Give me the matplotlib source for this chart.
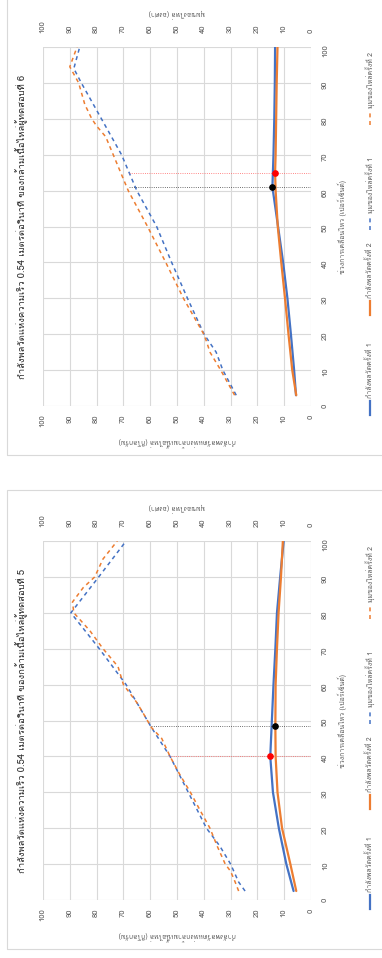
import numpy as np
import matplotlib
matplotlib.use("Agg")
import matplotlib.pyplot as plt
import matplotlib.transforms as mtrans
from matplotlib import font_manager
from matplotlib.ft2font import FT2Font
from matplotlib.lines import Line2D
from matplotlib.patches import Rectangle

# ---- data (ผู้ทดสอบที่ 6, top chart) ----
p6_pow1_x = [3, 10, 20, 30, 40, 50, 61, 70, 80, 90, 100]
p6_pow1 = [5.6, 6.3, 7.5, 8.8, 10.4, 12.3, 14.4, 14.0, 13.7, 13.5, 13.4]
p6_pow2_x = [3, 10, 20, 30, 40, 50, 60, 65, 70, 80, 90, 100]
p6_pow2 = [5.5, 7.0, 8.4, 9.7, 11.1, 12.4, 13.2, 13.4, 13.2, 13.0, 12.8, 12.5]
p6_ang1_x = [3, 10, 15, 20, 30, 40, 50, 60, 70, 80, 90, 94, 100]
p6_ang1 = [27.9, 32.9, 35.4, 39.9, 46.1, 52.0, 57.6, 65.0, 70.7, 78.2, 85.7, 88.5, 86.3]
p6_ang2_x = [3, 10, 15, 18, 20, 30, 40, 50, 60, 70, 75, 78, 80, 84, 90, 94.5, 100]
p6_ang2 = [28.5, 33.7, 37.7, 39.0, 40.0, 47.6, 54.2, 61.0, 68.2, 73.8, 76.6, 80.0, 81.8,
           84.4, 86.7, 90.0, 87.3]
p6_peak_x = [61, 65]
p6_peak_y = [14.4, 13.4]
p6_peak_top = [68.2, 68.2]

# ---- data (ผู้ทดสอบที่ 5, bottom chart) ----
p5_pow1_x = [2.5, 10, 20, 30, 40, 50, 60, 70, 80, 90, 100]
p5_pow1 = [6.5, 9.2, 12.0, 14.2, 15.2, 14.6, 14.0, 13.3, 12.7, 11.5, 10.2]
p5_pow2_x = [2.5, 10, 20, 30, 40, 48.5, 60, 70, 80, 90, 100]
p5_pow2 = [5.5, 7.7, 10.8, 12.5, 13.2, 13.3, 13.2, 12.7, 12.1, 11.2, 10.5]
p5_ang1_x = [2.5, 5, 10, 15, 20, 30, 40, 48, 55, 60, 70, 80, 90, 100]
p5_ang1 = [24.6, 27.0, 30.0, 34.0, 39.0, 45.8, 52.6, 59.5, 65.0, 69.0, 79.0, 89.6, 79.2, 69.0]
p5_ang2_x = [2.5, 5, 8, 10, 15, 20, 25, 30, 35, 40, 45, 48, 52, 55, 60, 65, 70, 75, 80,
             83, 87, 90, 95, 100]
p5_ang2 = [27.0, 28.3, 30.0, 32.0, 35.0, 37.7, 41.4, 45.0, 49.0, 52.6, 55.7, 59.5, 62.6,
           65.0, 70.0, 72.0, 77.6, 82.5, 88.5, 89.0, 85.0, 80.7, 77.6, 72.3]
p5_peak_x = [40, 48.5]
p5_peak_y = [15.2, 13.3]
p5_peak_top = [53.2, 59.9]

ticks = list(range(0, 101, 10))
legend_labels = ["กำลังพลวัตครั้งที่ 1", "กำลังพลวัตครั้งที่ 2",
                 "มุมของไหล่ครั้งที่ 1", "มุมของไหล่ครั้งที่ 2"]
title_base = "กำลังพลวัตแห่งความเร็ว 0.54 เมตรต่อวินาที ของกล้ามเนื้อไหล่ผู้ทดสอบที่ "
xlabel = "ช่วงการเคลื่อนไหว (เปอร์เซ็นต์)"
ylabel_left = "กำลังพลวัตแห่งกล้ามเนื้อไหล่ (กิโลกรัม)"
ylabel_right = "มุมของไหล่ (องศา)"

BLUE = "#4472C4"
ORANGE = "#ED7D31"
GRID = "#D9D9D9"
TXT = "#595959"
DASH = (0, (2.6, 2.4))


def find_thai_family():
    for f in font_manager.fontManager.ttflist:
        try:
            cmap = FT2Font(f.fname).get_charmap()
        except Exception:
            continue
        if 0x0E01 in cmap and 0x0E48 in cmap and 0x0E35 in cmap:
            return f.name
    return None


thai = find_thai_family()
if thai:
    plt.rcParams['font.family'] = [thai, 'DejaVu Sans']

W, H = 382, 958
fig = plt.figure(figsize=(W / 100, H / 100), dpi=100)


def fx(px):
    return px / W


def fy(py):
    return 1 - py / H


def panel(off, num, pw1x, pw1, pw2x, pw2, a1x, a1, a2x, a2, pkx, pky, pktop):
    # chart area border
    fig.add_artist(Rectangle((fx(7), fy(455 + off)), fx(400), (456 + 3) / H,
                             transform=fig.transFigure, fill=False,
                             edgecolor=GRID, lw=0.8))
    left, right, top, bottom = 43, 311, 47 + off, 406 + off
    ax = fig.add_axes([fx(left), fy(bottom), fx(right - left), (bottom - top) / H])
    # chart is turned a quarter turn: value on horizontal, movement % on vertical
    ax.plot(a1, a1x, color=BLUE, lw=1.1, linestyle=DASH)
    ax.plot(a2, a2x, color=ORANGE, lw=1.1, linestyle=DASH)
    ax.plot(pw1, pw1x, color=BLUE, lw=1.6, solid_capstyle='round')
    ax.plot(pw2, pw2x, color=ORANGE, lw=1.6, solid_capstyle='round')
    cols = ['black', 'red']
    dcols = ['#404040', '#FF6060']
    if off > 0:
        cols = ['red', 'black']
        dcols = ['#FF6060', '#404040']
    for i in range(2):
        ax.plot([0, pktop[i]], [pkx[i], pkx[i]], color=dcols[i], lw=0.6, linestyle=':')
        ax.plot(pky[i], pkx[i], 'o', color=cols[i], ms=3.8, zorder=5)
    ax.set_xlim(100, 0)
    ax.set_ylim(0, 100)
    ax.set_xticks(ticks)
    ax.set_yticks(ticks)
    ax.grid(color=GRID, lw=0.8)
    ax.set_axisbelow(True)
    for s in ax.spines.values():
        s.set_visible(False)
    ax.yaxis.tick_right()
    ax.tick_params(axis='x', length=0, labelsize=5.5, labelcolor=TXT,
                   labelrotation=90, pad=6, labeltop=True, top=False)
    ax.tick_params(axis='y', length=0, labelsize=5.5, labelcolor=TXT,
                   labelrotation=90, pad=8)
    # top labels sit a little further out
    for t in ax.xaxis.get_major_ticks():
        t.label2.set_transform(t.label2.get_transform() +
                               mtrans.ScaledTranslation(0, 4 / 72, fig.dpi_scale_trans))

    cx = (left + right) / 2
    cy = (top + bottom) / 2
    fig.text(fx(22), fy(cy), title_base + num, rotation=90, ha='center', va='center',
             fontsize=6.8, color='#262626')
    fig.text(fx(cx), fy(442 + off), ylabel_left, rotation=180, ha='center', va='center',
             fontsize=5, color=TXT)
    fig.text(fx(cx), fy(13 + off), ylabel_right, rotation=180, ha='center', va='center',
             fontsize=5, color=TXT)
    fig.text(fx(342), fy(cy), xlabel, rotation=90, ha='center', va='center',
             fontsize=5, color=TXT)
    # legend, drawn by hand because it is turned as well
    styles = [(BLUE, '-', 1.6), (ORANGE, '-', 1.6), (BLUE, DASH, 1.1),
              (ORANGE, DASH, 1.1)]
    starts = [415, 315, 230, 125]
    for (c, ls, lw), s, lab in zip(styles, starts, legend_labels):
        fig.add_artist(Line2D([fx(370), fx(370)], [fy(s + off), fy(s - 14 + off)],
                              transform=fig.transFigure, color=c, lw=lw, linestyle=ls))
        fig.text(fx(370), fy(s - 17 + off), lab, rotation=90, rotation_mode='anchor',
                 ha='left', va='center', fontsize=5, color=TXT)
    return ax


panel(0, "6", p6_pow1_x, p6_pow1, p6_pow2_x, p6_pow2, p6_ang1_x, p6_ang1,
      p6_ang2_x, p6_ang2, p6_peak_x, p6_peak_y, p6_peak_top)
panel(494, "5", p5_pow1_x, p5_pow1, p5_pow2_x, p5_pow2, p5_ang1_x, p5_ang1,
      p5_ang2_x, p5_ang2, p5_peak_x, p5_peak_y, p5_peak_top)

fig.savefig("out.png", dpi=100, facecolor='white')
